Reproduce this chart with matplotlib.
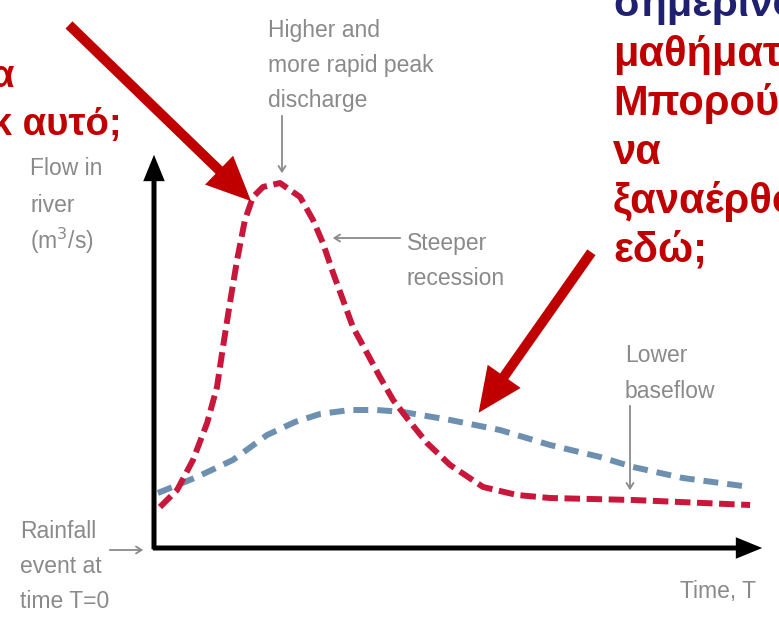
import matplotlib
matplotlib.use("Agg")
import matplotlib.pyplot as plt
from matplotlib.patches import FancyArrowPatch

# Hydrograph values (time units, flow units)
t_urban = [0.2, 0.77, 1.3, 1.77, 2.1, 2.3, 2.53, 2.77, 3.03, 3.3, 3.63, 4.2,
           4.87, 5.3, 5.63, 5.97, 6.3, 6.63, 7.1, 7.53, 7.97, 8.43, 9.1, 9.87,
           10.97, 12.1, 13.2, 15.97, 19.87]
q_urban = [4.1, 5.8, 8.8, 12.5, 16.1, 20.1, 24.5, 28.8, 32.8, 35.1, 36.1, 36.5,
           35.1, 32.8, 30.5, 27.5, 24.8, 22.1, 19.5, 17.1, 14.8, 13.0, 10.5, 8.3,
           6.1, 5.3, 5.0, 4.8, 4.3]

t_rural = [0.13, 1.43, 2.63, 3.77, 4.7, 5.53, 6.53, 7.43, 8.3, 9.87, 11.53,
           13.2, 14.87, 15.97, 17.63, 19.87]
q_rural = [5.5, 7.1, 8.8, 11.3, 12.6, 13.4, 13.8, 13.8, 13.6, 12.8, 11.8,
           10.3, 9.1, 8.1, 7.0, 6.1]

W, H = 779, 620
GRAY = "#8a8a8a"
RED = "#c00000"


def P(x, y):
    # pixel position -> figure fraction
    return (x / W, 1 - y / H)


def lines(x, y0, dy, texts, **kw):
    for i, s in enumerate(texts):
        fig.text(*P(x, y0 + i * dy), s, va="baseline", **kw)


fig = plt.figure(figsize=(W / 100, H / 100), dpi=100)
fig.patch.set_facecolor("white")

ax = fig.add_axes([154 / W, 72 / H, 625 / W, 548 / H])
ax.set_xlim(0, 625 / 30)
ax.set_ylim(0, 54.8)
ax.axis("off")

ax.plot(t_rural, q_rural, color="#6d8fb0", lw=4.3, dashes=(2.5, 1.5),
        dash_capstyle="butt", solid_joinstyle="round")
ax.plot(t_urban, q_urban, color="#c8173a", lw=4.3, dashes=(2.6, 1.1),
        dash_capstyle="butt", solid_joinstyle="round")

# axes arrows
for a, b in [(P(154, 552), P(154, 152)), (P(150, 548), P(765, 548))]:
    fig.add_artist(FancyArrowPatch(a, b, transform=fig.transFigure,
                                   arrowstyle="simple,head_width=1.55,head_length=1.9,tail_width=0.36",
                                   mutation_scale=10, color="black", lw=0))

# gray text labels
gk = dict(color=GRAY, fontsize=16.5, family="Liberation Sans")
lines(268, 37, 35, ["Higher and", "more rapid peak", "discharge"], **gk)
lines(407, 250, 35, ["Steeper", "recession"], **gk)
lines(30, 175, 37, ["Flow in", "river", "(m$^3$/s)"], **gk)
lines(20, 538, 35, ["Rainfall", "event at", "time T=0"], **gk)
lines(625, 362, 36, ["Lower", "baseflow"], **gk)
lines(680, 598, 0, ["Time, T"], **gk)

# small gray pointers
for a, b in [((282, 113), (282, 176)), ((403, 238), (330, 238)),
             ((107, 550), (146, 550)), ((630, 403), (630, 493))]:
    fig.add_artist(FancyArrowPatch(P(*a), P(*b), transform=fig.transFigure,
                                   arrowstyle="->,head_width=2.5,head_length=4",
                                   mutation_scale=1, color=GRAY, lw=1.3))

# big red arrows
for a, b in [((67, 23), (253, 203)), ((593, 250), (477, 415))]:
    fig.add_artist(FancyArrowPatch(P(*a), P(*b), transform=fig.transFigure,
                                   arrowstyle="simple,head_width=1.45,head_length=1.6,tail_width=0.36",
                                   mutation_scale=20, color=RED, lw=0))

# Greek overlay text
rk = dict(color=RED, fontsize=27.5, fontweight="bold", family="Liberation Sans")
fig.text(*P(15, 87), "Τι σημαίνει για", ha="right", va="baseline", **rk)
fig.text(*P(122, 135), "Γιατί συμβαίνει κ αυτό;", ha="right", va="baseline", **rk)

rk["fontsize"] = 30
fig.text(*P(613, 16), "σημερινού", va="baseline", color="#1f2070",
         fontsize=30, fontweight="bold", family="Liberation Sans")
lines(613, 66, 49, ["μαθήματος.", "Μπορούμε", "να", "ξαναέρθουμε", "εδώ;"], **rk)

fig.savefig("out.png", dpi=100, facecolor="white")
